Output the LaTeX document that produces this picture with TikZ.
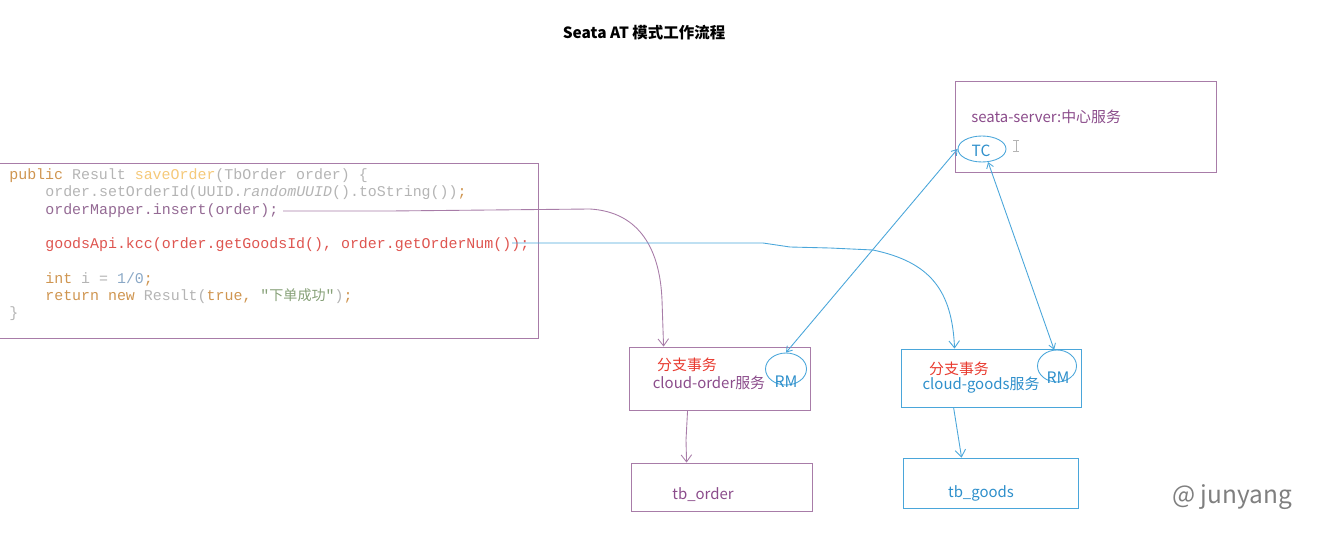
\documentclass[tikz,border=0pt]{standalone}
\usepackage{fontspec}
\setmonofont{Liberation Mono}
\newfontfamily\cjk{Noto Sans CJK SC}
\usetikzlibrary{arrows.meta,positioning,shapes.geometric,calc}
\definecolor{Pc}{HTML}{A87CA8}
\definecolor{Ptxt}{HTML}{8B4C8B}
\definecolor{Bc}{HTML}{4AA6DA}
\definecolor{Btxt}{HTML}{2E8FCB}
\definecolor{Redc}{HTML}{E83A2F}
\definecolor{Wm}{HTML}{7F7F7F}
\definecolor{Kc}{HTML}{CF9550}
\definecolor{Gc}{HTML}{B4B4B4}
\definecolor{Yc}{HTML}{F5C97A}
\definecolor{Mc}{HTML}{946A94}
\definecolor{Rc}{HTML}{DE5550}
\definecolor{Nc}{HTML}{8AA8C6}
\definecolor{Sc}{HTML}{86A077}
\tikzset{
  pbox/.style={rectangle, draw=Pc, line width=0.5pt, inner sep=0pt},
  bbox/.style={rectangle, draw=Bc, line width=0.5pt, inner sep=0pt},
  ring/.style={ellipse, draw=Bc, line width=0.5pt, inner sep=0pt},
  lbl/.style={inner sep=0pt, font=\cjk\fontsize{8.5}{10}\selectfont},
  codeline/.style={anchor=base west, inner sep=0pt, text=Gc, font=\fontsize{8.5}{10}\ttfamily},
  plink/.style={draw=Pc, line width=0.5pt, -{Straight Barb[length=4pt,width=6pt]}},
  blink/.style={draw=Bc, line width=0.5pt, -{Straight Barb[length=4pt,width=6pt]}},
  both/.style={draw=Bc, line width=0.5pt, {Straight Barb[length=3pt,width=4pt]}-{Straight Barb[length=3pt,width=4pt]}},
}
\newcommand{\kw}[1]{\textcolor{Kc}{#1}}
\newcommand{\hz}[1]{{\cjk\fontsize{8}{10}\selectfont #1}}

\begin{document}
\begin{tikzpicture}[x=0.02cm, y=-0.02cm]
  \useasboundingbox (0,0) rectangle (1331,544);
  \node[lbl, font=\cjk\bfseries\fontsize{8.8}{10}\selectfont] (title) at (644,33) {Seata AT 模式工作流程};
  % code
  \node[pbox, minimum width=10.8cm, minimum height=3.5cm] (code) at (268,250.5) {};
  \node[codeline] (c1) at (9,179) {\kw{public} Result \textcolor{Yc}{saveOrder}(TbOrder order) \{};
  \node[codeline] (c2) at (45,196) {order.setOrderId(UUID.\textit{randomUUID}().toString())\kw{;}};
  \node[codeline, text=Mc] (c3) at (45,214) {orderMapper.insert(order);};
  \node[codeline, text=Rc] (c5) at (45,248) {goodsApi.kcc(order.getGoodsId(), order.getOrderNum());};
  \node[codeline] (c7) at (45,283) {\kw{int} i = \textcolor{Nc}{1/0}\kw{;}};
  \node[codeline] (c8) at (45,300) {\kw{return new} Result(\kw{true,} \textcolor{Sc}{"\hz{下单成功}"})\kw{;}};
  \node[codeline] (c9) at (9,317) {\}};
  \coordinate (insEnd) at (283,211);
  \coordinate (kccEnd) at (512,243);
  % seata server
  \node[pbox, minimum width=5.22cm, minimum height=1.82cm] (seata) at (1085.5,126.5) {};
  \node[lbl, anchor=west, text=Ptxt] (seataTxt) at (971,117) {seata-server:中心服务};
  \node[ring, minimum width=0.96cm, minimum height=0.52cm] (tc) at (982,149) {};
  \node[lbl, text=Btxt, font=\cjk\fontsize{8.8}{10}\selectfont] (tcTxt) at (981,151) {TC};
  \draw[Gc, line width=0.5pt] (1013,140) -- (1019,140) (1016,140) -- (1016,151) (1013,151) -- (1019,151);
  % branch services
  \node[pbox, minimum width=3.62cm, minimum height=1.26cm] (orderSvc) at (719.5,378.5) {};
  \node[lbl, text=Ptxt] (orderTxt) at (709,383) {cloud-order服务};
  \node[lbl, text=Redc] (orderTx) at (687,365) {分支事务};
  \node[ring, minimum width=0.82cm, minimum height=0.64cm] (rmOrder) at (786,369) {};
  \node[lbl, text=Btxt, font=\cjk\fontsize{9}{10}\selectfont] (rmOrderTxt) at (786,382) {RM};
  \node[bbox, minimum width=3.6cm, minimum height=1.16cm] (goodsSvc) at (991,378) {};
  \node[lbl, text=Btxt] (goodsTxt) at (981,385) {cloud-goods服务};
  \node[lbl, text=Redc] (goodsTx) at (959,369) {分支事务};
  \node[ring, minimum width=0.78cm, minimum height=0.64cm] (rmGoods) at (1057,366) {};
  \node[lbl, text=Btxt, font=\cjk\fontsize{9}{10}\selectfont] (rmGoodsTxt) at (1058,378) {RM};
  % tables
  \node[pbox, minimum width=3.62cm, minimum height=0.96cm] (orderDb) at (721.5,487) {};
  \node[lbl, text=Ptxt] (orderDbTxt) at (703,495) {tb\_order};
  \node[bbox, minimum width=3.5cm, minimum height=1.0cm] (goodsDb) at (990.5,483) {};
  \node[lbl, text=Btxt] (goodsDbTxt) at (981,493) {tb\_goods};
  % links
  \draw[plink] (insEnd) -- (390,211) -- (590,209) .. controls (640,212) and (660,250) .. (662,300) -- ([xshift=0.7cm]orderSvc.north west);
  \draw[blink] (kccEnd) -- (763,243) -- (790,247) -- (830,248) -- (873,250) .. controls (930,262) and (952,290) .. ([xshift=1.08cm]goodsSvc.north west);
  \draw[plink] ([xshift=1.18cm]orderSvc.south west) -- (686,440) -- ([xshift=1.12cm]orderDb.north west);
  \draw[blink] ([xshift=1.06cm]goodsSvc.south west) -- ([xshift=1.18cm]goodsDb.north west);
  \draw[both] (rmOrder.north) -- (tc.west);
  \draw[both] (tc.-65) -- (rmGoods.100);
  \node[inner sep=0pt, text=Wm, font=\cjk\fontsize{13.9}{16}\selectfont] (mark) at (1232,497) {@ junyang};
\end{tikzpicture}
\end{document}
